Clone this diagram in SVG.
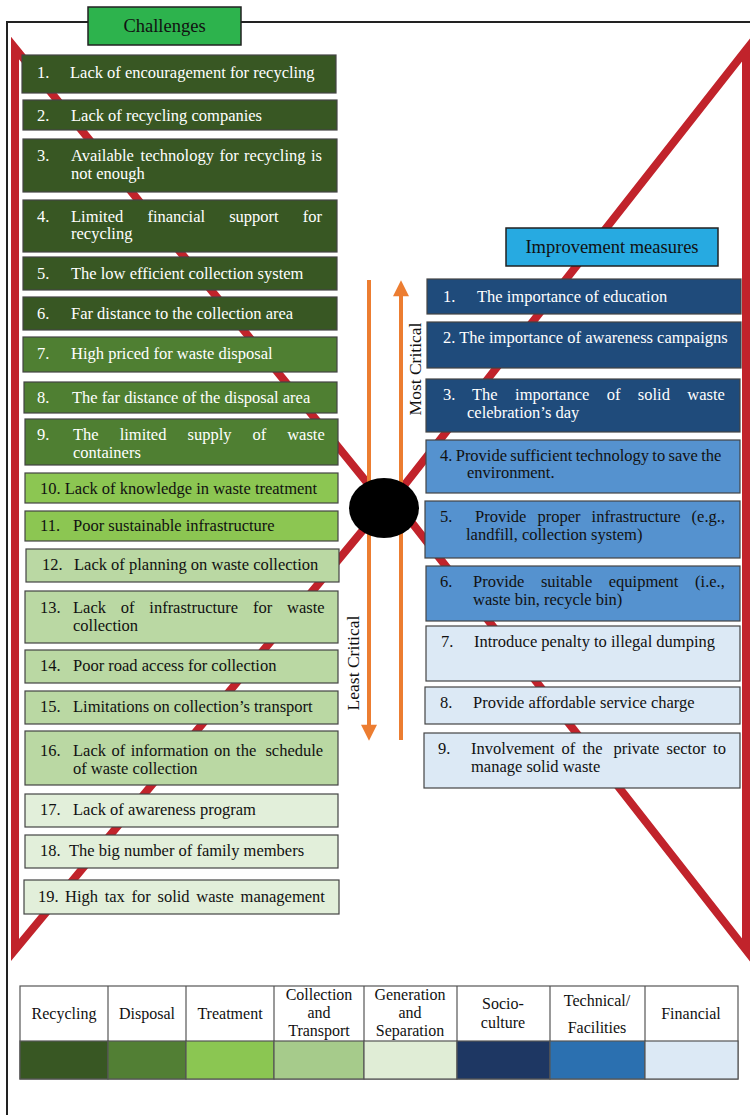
<svg xmlns="http://www.w3.org/2000/svg" width="750" height="1115" viewBox="0 0 750 1115">
<style>
text{font-family:"Liberation Serif","Times New Roman",serif;font-size:16.5px}
.w{fill:#ffffff}
.k{fill:#111111}
.box{stroke:#444;stroke-width:1.2}
.rec{fill:#385723}
.dis{fill:#4f7f32}
.trt{fill:#8cc652}
.col{fill:#bad8a3}
.gen{fill:#e2efda}
.soc{fill:#1f4b7b}
.tec{fill:#5592cf}
.fin{fill:#dce9f5}
.red{fill:none;stroke:#c1232b;stroke-width:8;stroke-linejoin:miter}
.org{stroke:#ec7d31;stroke-width:4;fill:none}
.lg{font-size:16px}
.cell{stroke:#555;stroke-width:1.2}
.ttl{font-size:18.5px}
.crit{font-size:17.5px}
</style>
<defs>
<marker id="ah" viewBox="0 0 10 10" refX="2" refY="5" markerWidth="4.5" markerHeight="4" orient="auto" markerUnits="strokeWidth">
<path d="M0,0 L10,5 L0,10 Z" fill="#ec7d31"/>
</marker>
</defs>
<rect width="750" height="1115" fill="#ffffff"/>
<!-- outer frame -->
<path d="M7,1115 L7,22 L750,22" fill="none" stroke="#222" stroke-width="2"/>

<g id="connectors">
<path class="red" d="M15,48 L386,506 L378,512 L15,950 Z"/>
<path class="red" d="M746,50 L388,506 L402,510 L746,950 Z"/>
<line class="org" x1="369" y1="280" x2="369" y2="728" marker-end="url(#ah)"/>
<line class="org" x1="401" y1="740" x2="401" y2="293" marker-end="url(#ah)"/>
</g>

<g id="critical-labels">
<text class="k crit" transform="translate(421,369) rotate(-90)" text-anchor="middle">Most Critical</text>
<text class="k crit" transform="translate(359,663) rotate(-90)" text-anchor="middle">Least Critical</text>
</g>

<g id="hub"><ellipse cx="384" cy="508" rx="35" ry="30" fill="#000"/></g>

<g id="title-challenges">
<rect x="88" y="7" width="153" height="38" fill="#2db34d" stroke="#222" stroke-width="1.5"/>
<text class="k ttl" x="164.5" y="32" text-anchor="middle">Challenges</text>
</g>
<g id="title-improvement">
<rect x="506" y="228" width="212" height="38" fill="#27aae1" stroke="#222" stroke-width="1.5"/>
<text class="k ttl" x="612" y="253" text-anchor="middle">Improvement measures</text>
</g>

<!-- Challenges -->
<g id="c1"><rect class="box rec" x="22" y="55" width="314" height="38"/><text class="w" y="78"><tspan x="37">1.</tspan><tspan x="70">Lack of encouragement for recycling</tspan></text></g>
<g id="c2"><rect class="box rec" x="23" y="100" width="314" height="30"/><text class="w" y="121"><tspan x="37">2.</tspan><tspan x="71">Lack of recycling companies</tspan></text></g>
<g id="c3"><rect class="box rec" x="23" y="139" width="314" height="53"/><text class="w" y="161"><tspan x="37">3.</tspan><tspan x="71">Available</tspan><tspan x="140.6">technology</tspan><tspan x="219.4">for</tspan><tspan x="244.1">recycling</tspan><tspan x="311">is</tspan></text><text class="w" x="71" y="179">not enough</text></g>
<g id="c4"><rect class="box rec" x="23" y="200" width="314" height="52"/><text class="w" y="222"><tspan x="37">4.</tspan><tspan x="71">Limited</tspan><tspan x="147.4">financial</tspan><tspan x="229.2">support</tspan><tspan x="302.8">for</tspan></text><text class="w" x="71" y="239">recycling</text></g>
<g id="c5"><rect class="box rec" x="23" y="257" width="314" height="33"/><text class="w" y="279"><tspan x="37">5.</tspan><tspan x="71">The low efficient collection system</tspan></text></g>
<g id="c6"><rect class="box rec" x="23" y="297" width="314" height="33"/><text class="w" y="319"><tspan x="37">6.</tspan><tspan x="71">Far distance to the collection area</tspan></text></g>
<g id="c7"><rect class="box dis" x="23" y="337" width="314" height="35"/><text class="w" y="359"><tspan x="37">7.</tspan><tspan x="71">High priced for waste disposal</tspan></text></g>
<g id="c8"><rect class="box dis" x="24" y="382" width="313" height="31"/><text class="w" y="403"><tspan x="37">8.</tspan><tspan x="72">The far distance of the disposal area</tspan></text></g>
<g id="c9"><rect class="box dis" x="25" y="419" width="313" height="46"/><text class="w" y="440"><tspan x="37">9.</tspan><tspan x="73">The</tspan><tspan x="119.7">limited</tspan><tspan x="187.5">supply</tspan><tspan x="252.5">of</tspan><tspan x="287.2">waste</tspan></text><text class="w" x="73" y="458">containers</text></g>
<g id="c10"><rect class="box trt" x="25" y="473" width="313" height="30"/><text class="k" x="40" y="494">10. Lack of knowledge in waste treatment</text></g>
<g id="c11"><rect class="box trt" x="25" y="511" width="313" height="30"/><text class="k" y="531"><tspan x="40">11.</tspan><tspan x="73">Poor sustainable infrastructure</tspan></text></g>
<g id="c12"><rect class="box col" x="26" y="549" width="313" height="33"/><text class="k" y="570"><tspan x="42">12.</tspan><tspan x="74">Lack of planning on waste collection</tspan></text></g>
<g id="c13"><rect class="box col" x="25" y="591" width="313" height="52"/><text class="k" y="613"><tspan x="40">13.</tspan><tspan x="73">Lack</tspan><tspan x="120.8">of</tspan><tspan x="149.3">infrastructure</tspan><tspan x="253">for</tspan><tspan x="287">waste</tspan></text><text class="k" x="73" y="631">collection</text></g>
<g id="c14"><rect class="box col" x="25" y="650" width="313" height="33"/><text class="k" y="671"><tspan x="40">14.</tspan><tspan x="73">Poor road access for collection</tspan></text></g>
<g id="c15"><rect class="box col" x="25" y="691" width="313" height="33"/><text class="k" y="712"><tspan x="40">15.</tspan><tspan x="73">Limitations on collection’s transport</tspan></text></g>
<g id="c16"><rect class="box col" x="25" y="731" width="313" height="54"/><text class="k" y="756"><tspan x="40">16.</tspan><tspan x="73">Lack</tspan><tspan x="111.5">of</tspan><tspan x="130.7">information</tspan><tspan x="214.1">on</tspan><tspan x="236.1">the</tspan><tspan x="265.4">schedule</tspan></text><text class="k" x="73" y="774">of waste collection</text></g>
<g id="c17"><rect class="box gen" x="25" y="794" width="313" height="33"/><text class="k" y="815"><tspan x="40">17.</tspan><tspan x="73">Lack of awareness program</tspan></text></g>
<g id="c18"><rect class="box gen" x="25" y="835" width="313" height="33"/><text class="k" y="856"><tspan x="40">18.</tspan><tspan x="69">The big number of family members</tspan></text></g>
<g id="c19"><rect class="box gen" x="24" y="880" width="315" height="34"/><text class="k" y="902"><tspan x="38">19.</tspan><tspan x="65">High</tspan><tspan x="104.7">tax</tspan><tspan x="131.6">for</tspan><tspan x="157.5">solid</tspan><tspan x="196.3">waste</tspan><tspan x="240.6">management</tspan></text></g>

<!-- Improvement measures -->
<g id="m1"><rect class="box soc" x="427" y="279" width="314" height="35"/><text class="w" y="302"><tspan x="443">1.</tspan><tspan x="477">The importance of education</tspan></text></g>
<g id="m2"><rect class="box soc" x="427" y="322" width="314" height="46"/><text class="w" x="443" y="343">2. The importance of awareness campaigns</text></g>
<g id="m3"><rect class="box soc" x="426" y="379" width="314" height="53"/><text class="w" y="400"><tspan x="443">3.</tspan><tspan x="472">The</tspan><tspan x="515.1">importance</tspan><tspan x="606.7">of</tspan><tspan x="637.8">solid</tspan><tspan x="687.3">waste</tspan></text><text class="w" x="467" y="418">celebration’s day</text></g>
<g id="m4"><rect class="box tec" x="426" y="440" width="314" height="53"/><text class="k" x="440" y="461" word-spacing="-0.8">4. Provide sufficient technology to save the</text><text class="k" x="467" y="478">environment.</text></g>
<g id="m5"><rect class="box tec" x="425" y="501" width="315" height="57"/><text class="k" y="522"><tspan x="440">5.</tspan><tspan x="475">Provide</tspan><tspan x="537.4">proper</tspan><tspan x="591.6">infrastructure</tspan><tspan x="691.6">(e.g.,</tspan></text><text class="k" x="466" y="540">landfill, collection system)</text></g>
<g id="m6"><rect class="box tec" x="426" y="566" width="314" height="55"/><text class="k" y="587"><tspan x="440">6.</tspan><tspan x="473">Provide</tspan><tspan x="540.9">suitable</tspan><tspan x="608.8">equipment</tspan><tspan x="695.1">(i.e.,</tspan></text><text class="k" x="473" y="605">waste bin, recycle bin)</text></g>
<g id="m7"><rect class="box fin" x="426" y="626" width="314" height="55"/><text class="k" y="647"><tspan x="441">7.</tspan><tspan x="474">Introduce penalty to illegal dumping</tspan></text></g>
<g id="m8"><rect class="box fin" x="425" y="687" width="315" height="37"/><text class="k" y="708"><tspan x="440">8.</tspan><tspan x="473">Provide affordable service charge</tspan></text></g>
<g id="m9"><rect class="box fin" x="424" y="733" width="316" height="55"/><text class="k" y="754"><tspan x="438">9.</tspan><tspan x="471">Involvement</tspan><tspan x="561.6">of</tspan><tspan x="582.5">the</tspan><tspan x="613.5">private</tspan><tspan x="666.5">sector</tspan><tspan x="713.1">to</tspan></text><text class="k" x="471" y="772">manage solid waste</text></g>

<!-- Legend -->
<g id="legend">
<rect class="cell" x="20" y="986" width="718" height="93" fill="#fff"/>
<rect class="cell" x="20" y="1041" width="88" height="38" fill="#385723"/>
<rect class="cell" x="108" y="1041" width="78" height="38" fill="#527f34"/>
<rect class="cell" x="186" y="1041" width="88" height="38" fill="#8bc652"/>
<rect class="cell" x="274" y="1041" width="90" height="38" fill="#a6cb8b"/>
<rect class="cell" x="364" y="1041" width="93" height="38" fill="#e0edd6"/>
<rect class="cell" x="457" y="1041" width="93" height="38" fill="#1e3763"/>
<rect class="cell" x="550" y="1041" width="95" height="38" fill="#2b70b0"/>
<rect class="cell" x="645" y="1041" width="93" height="38" fill="#dce9f5"/>
<g stroke="#555" stroke-width="1.2">
<line x1="108" y1="986" x2="108" y2="1041"/><line x1="186" y1="986" x2="186" y2="1041"/><line x1="274" y1="986" x2="274" y2="1041"/><line x1="364" y1="986" x2="364" y2="1041"/><line x1="457" y1="986" x2="457" y2="1041"/><line x1="550" y1="986" x2="550" y2="1041"/><line x1="645" y1="986" x2="645" y2="1041"/>
</g>
<g class="k" text-anchor="middle">
<text class="lg" x="64" y="1019">Recycling</text>
<text class="lg" x="147" y="1019">Disposal</text>
<text class="lg" x="230" y="1019">Treatment</text>
<text class="lg" x="319" y="1000">Collection</text>
<text class="lg" x="319" y="1018">and</text>
<text class="lg" x="319" y="1036">Transport</text>
<text class="lg" x="410" y="1000">Generation</text>
<text class="lg" x="410" y="1018">and</text>
<text class="lg" x="410" y="1036">Separation</text>
<text class="lg" x="503" y="1009">Socio-</text>
<text class="lg" x="503" y="1028">culture</text>
<text class="lg" x="597" y="1006">Technical/</text>
<text class="lg" x="597" y="1033">Facilities</text>
<text class="lg" x="691" y="1019">Financial</text>
</g>
</g>
</svg>
